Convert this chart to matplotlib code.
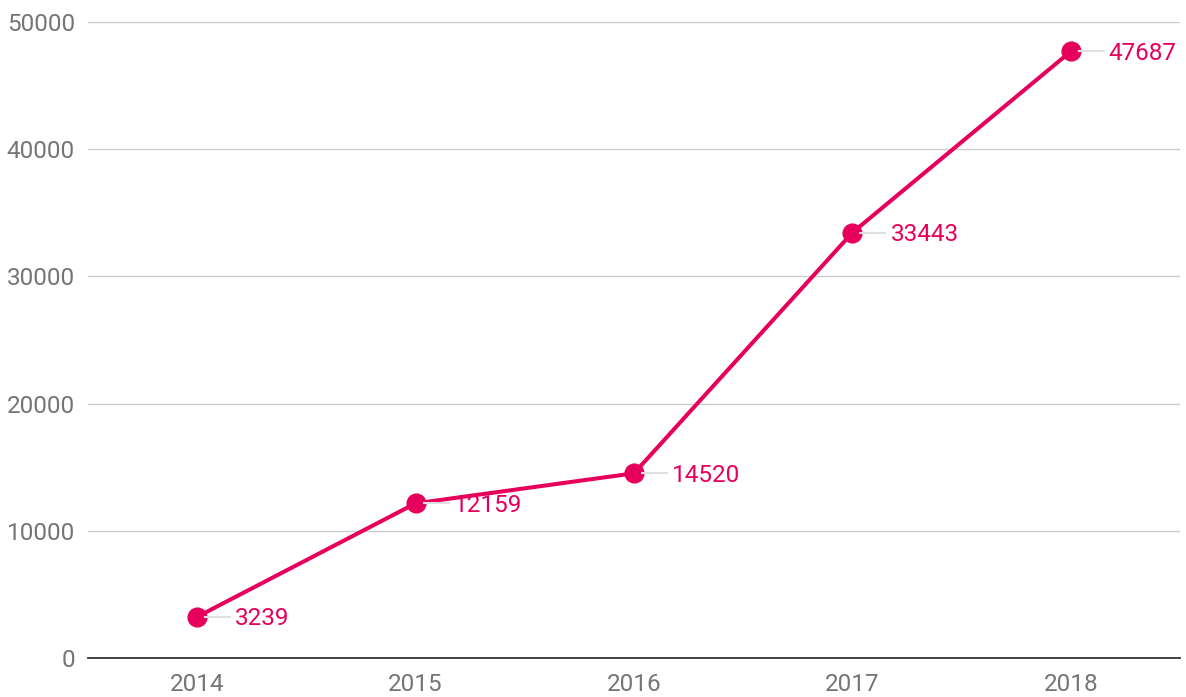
import matplotlib
matplotlib.use("Agg")
import matplotlib.pyplot as plt
from matplotlib.lines import Line2D

plt.rcParams['font.family'] = ['Roboto', 'DejaVu Sans']

years = [2014, 2015, 2016, 2017, 2018]
values = [3239, 12159, 14520, 33443, 47687]
yticks = [0, 10000, 20000, 30000, 40000, 50000]

pink = '#e6005c'
grey_text = '#757575'

fig = plt.figure(figsize=(11.86, 6.97), dpi=100)
ax = fig.add_axes([88/1186, 1-658/697, (1180-88)/1186, (658-22)/697])

ax.set_xlim(2013.5, 2018.5)
ax.set_ylim(0, 50000)
ax.set_yticks(yticks)
ax.set_xticks(years)
ax.set_yticklabels([str(t) for t in yticks])
ax.set_xticklabels([str(y) for y in years])
ax.tick_params(axis='both', length=0, labelsize=17.5, colors=grey_text)
ax.tick_params(axis='y', pad=9.5)
ax.tick_params(axis='x', pad=10.5)
for s in ['top', 'right', 'left']:
    ax.spines[s].set_visible(False)
ax.spines['bottom'].set_color('#333333')
ax.spines['bottom'].set_linewidth(1.3)
ax.grid(axis='y', color='#cccccc', linewidth=1)
ax.grid(axis='x', visible=False)
ax.set_axisbelow(True)

fig.canvas.draw()
for x, v in zip(years, values):
    px, py = ax.transData.transform((x, v))
    fig.add_artist(Line2D([(px + 8) / fig.bbox.width, (px + 33) / fig.bbox.width],
                          [py / fig.bbox.height, py / fig.bbox.height],
                          transform=fig.transFigure, color='#e0e0e0',
                          linewidth=1.5, zorder=1))
    ax.annotate(str(v), xy=(x, v), xytext=(38, -2), textcoords='offset pixels',
                ha='left', va='center', fontsize=17.5, color=pink, zorder=2)

ax.plot(years, values, color=pink, linewidth=2.9, marker='o', markersize=13.5,
        solid_capstyle='round', zorder=3, clip_on=False)

fig.savefig('out.png', dpi=100)
